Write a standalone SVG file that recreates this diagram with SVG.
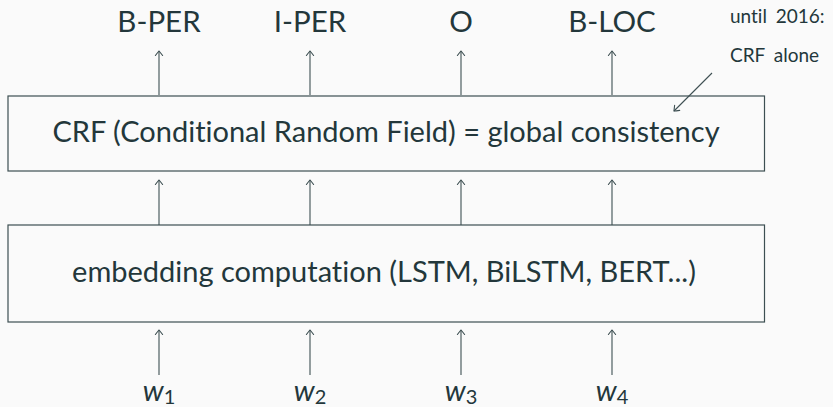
<svg xmlns="http://www.w3.org/2000/svg" width="833" height="407" viewBox="0 0 833 407">
  <style>
    .lbl { font-family: Lato, "Open Sans", "Liberation Sans", sans-serif; font-weight: 400; fill: #23373b; font-variant-ligatures: none; }
    .big { font-size: 29px; text-anchor: middle; }
    .tag { font-size: 29.5px; }
    .note { font-size: 19px; }
    .box { fill: none; stroke: #3d4f52; stroke-width: 1.2; }
    .edge { fill: none; stroke: #3d4f52; stroke-width: 1.1; marker-end: url(#tip); }
    .mi { font-style: italic; }
  </style>
  <defs>
    <marker id="tip" markerUnits="userSpaceOnUse" markerWidth="12" markerHeight="12" viewBox="-6 -6 12 12" refX="0" refY="0" orient="auto" overflow="visible">
      <path d="M-4.5,-3.6 Q-1.3,-1.1 0,0 Q-1.3,1.1 -4.5,3.6" fill="none" stroke="#3d4f52" stroke-width="1.1" stroke-linecap="round"/>
    </marker>
  </defs>
  <rect width="833" height="407" fill="#fafafa"/>

  <!-- output tags -->
  <g id="tags">
    <text class="lbl big tag" x="159" y="31.5">B-PER</text>
    <text class="lbl big tag" x="310" y="31.5">I-PER</text>
    <text class="lbl big tag" x="461" y="31.5">O</text>
    <text class="lbl big tag" x="612" y="31.5">B-LOC</text>
  </g>

  <!-- side note -->
  <g id="note">
    <text class="lbl note" x="730" y="23" word-spacing="4">until 2016:</text>
    <text class="lbl note" x="730" y="62" word-spacing="4">CRF alone</text>
  </g>

  <!-- CRF layer -->
  <g id="crf">
    <rect class="box" x="8" y="96" width="756.5" height="75"/>
    <text class="lbl big" x="386" y="142">CRF (Conditional Random Field) = global consistency</text>
  </g>

  <!-- embedding layer -->
  <g id="embedding">
    <rect class="box" x="8" y="225" width="756.5" height="97"/>
    <text class="lbl big" x="384" y="282" font-size="29.5">embedding computation (LSTM, BiLSTM, BERT...)</text>
  </g>

  <!-- input words -->
  <g id="words">
    <text class="lbl big" x="159" y="401"><tspan class="mi">w</tspan><tspan font-size="20" dy="3">1</tspan></text>
    <text class="lbl big" x="310" y="401"><tspan class="mi">w</tspan><tspan font-size="20" dy="3">2</tspan></text>
    <text class="lbl big" x="461" y="401"><tspan class="mi">w</tspan><tspan font-size="20" dy="3">3</tspan></text>
    <text class="lbl big" x="612" y="401"><tspan class="mi">w</tspan><tspan font-size="20" dy="3">4</tspan></text>
  </g>

  <!-- connectors -->
  <g id="connectors">
    <path class="edge" d="M159,95 V51"/>
    <path class="edge" d="M310,95 V51"/>
    <path class="edge" d="M461,95 V51"/>
    <path class="edge" d="M612,95 V51"/>

    <path class="edge" d="M159,225 V180"/>
    <path class="edge" d="M310,225 V180"/>
    <path class="edge" d="M461,225 V180"/>
    <path class="edge" d="M612,225 V180"/>

    <path class="edge" d="M159,375 V330"/>
    <path class="edge" d="M310,375 V330"/>
    <path class="edge" d="M461,375 V330"/>
    <path class="edge" d="M612,375 V330"/>

    <path class="edge" d="M712,73 L674,111"/>
  </g>
</svg>
